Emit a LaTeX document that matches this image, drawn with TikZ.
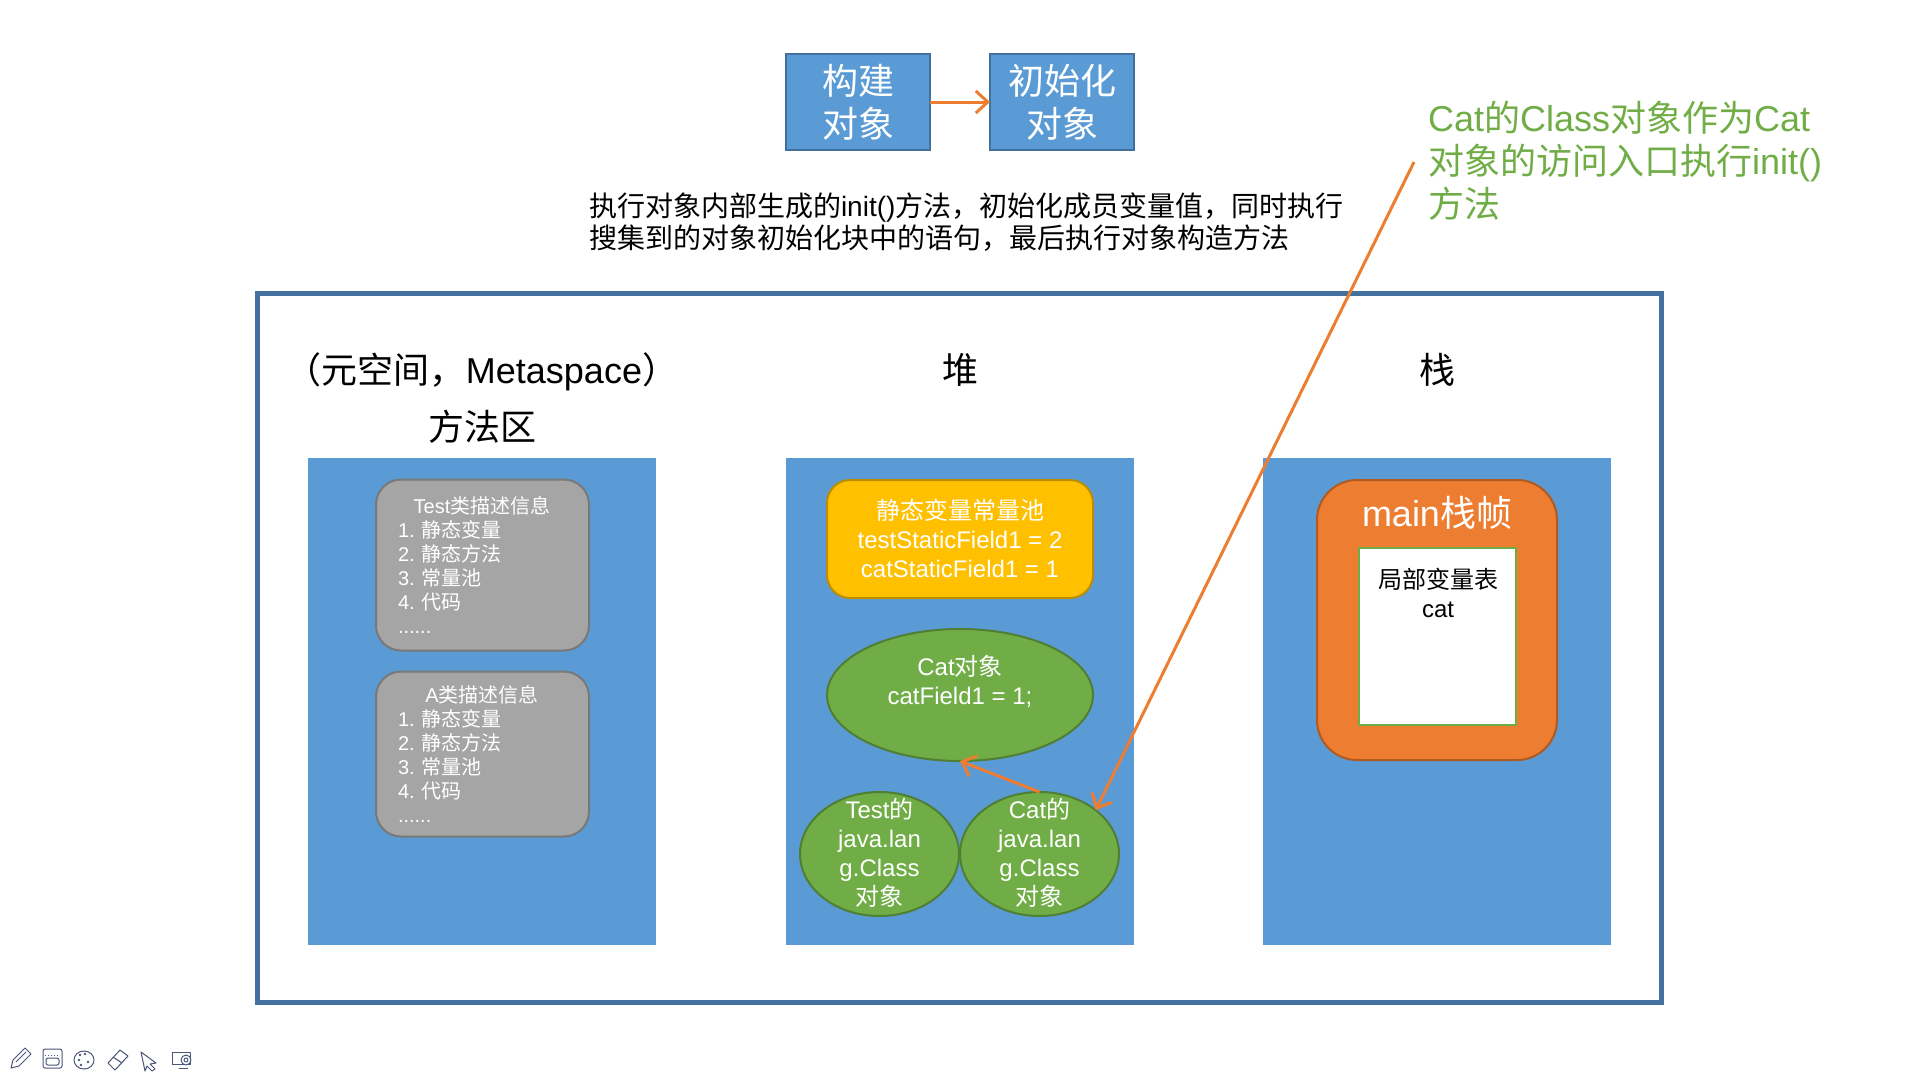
\documentclass[tikz,border=0pt]{standalone}
\usepackage{fontspec}
\setmainfont{Liberation Sans}
\newfontfamily\cjk{Noto Sans CJK SC}
\usetikzlibrary{arrows.meta, positioning, shapes.geometric}
\newcommand{\zh}[1]{{\cjk #1}}
\newcommand{\infolist}{1.\hspace{7.3pt}\zh{静态变量}\\2.\hspace{7.3pt}\zh{静态方法}\\3.\hspace{7.3pt}\zh{常量池}\\4.\hspace{7.3pt}\zh{代码}\\......}
\definecolor{panelblue}{HTML}{5B9BD5}
\definecolor{edgeblue}{HTML}{41719C}
\definecolor{lineorange}{HTML}{ED7D31}
\definecolor{edgeorange}{HTML}{AE5A21}
\definecolor{boxgrey}{HTML}{A5A5A5}
\definecolor{edgegrey}{HTML}{787878}
\definecolor{boxyellow}{HTML}{FFC000}
\definecolor{edgeyellow}{HTML}{BC8C00}
\definecolor{ballgreen}{HTML}{70AD47}
\definecolor{edgegreen}{HTML}{507E32}
\definecolor{iconblue}{HTML}{4A5578}
\begin{document}
\begin{tikzpicture}[
        x=1pt, y=-1pt,
        outer sep=0pt,
        block/.style={rectangle, draw=edgeblue, line width=2pt, fill=panelblue, text=white, align=center, minimum width=144pt, minimum height=96pt, inner sep=0pt, font=\fontsize{36}{43}\selectfont},
        area/.style={rectangle, fill=panelblue, minimum width=348pt, minimum height=487pt, anchor=north west},
        heading/.style={text=black, font=\fontsize{36}{36}\selectfont, inner sep=0pt},
        info/.style={rectangle, rounded corners=25pt, draw=edgegrey, line width=2pt, fill=boxgrey, minimum width=213pt},
        infotext/.style={text=white, align=left, inner sep=0pt, font=\fontsize{20}{24}\selectfont},
        whitetext/.style={text=white, align=center, inner sep=0pt, font=\fontsize{24}{29}\selectfont},
        ball/.style={ellipse, draw=edgegreen, line width=2pt, fill=ballgreen, inner sep=0pt},
        link/.style={draw=lineorange, line width=3pt, -{Straight Barb[length=12pt, width=22pt, line width=3pt]}},
        icon/.style={draw=iconblue, line width=1pt, line join=round}
    ]

    \useasboundingbox (0,0) rectangle (1920,1080);

    \node[block] (build) at (858,102) {\zh{构建}\\\zh{对象}};
    \node[block, right=60pt of build] (init) {\zh{初始化}\\\zh{对象}};
    \draw[link] (build) -- (init);

    \node[anchor=west, inner sep=0pt, align=left, font=\fontsize{28}{32}\selectfont] (desc) at (589,222) {\zh{执行对象内部生成的}init()\zh{方法，初始化成员变量值，同时执行}\\\zh{搜集到的对象初始化块中的语句，最后执行对象构造方法}};

    \node[anchor=west, inner sep=0pt, align=left, text=ballgreen, font=\fontsize{36}{43}\selectfont] (note) at (1428,161) {Cat\zh{的}Class\zh{对象作为}Cat\\\zh{对象的访问入口执行}init()\\\zh{方法}};
    \coordinate (noteend) at (1414,162);

    \node[rectangle, draw=edgeblue, line width=5pt, minimum width=1404pt, minimum height=709pt, anchor=north west] (frame) at (257,293) {};

    \node[area] (methodarea) at (308,458) {};
    \node[area, right=130pt of methodarea] (heaparea) {};
    \node[area, right=129pt of heaparea] (stackarea) {};

    \node[heading] (metatitle) at (482,372) {\zh{（元空间，}Metaspace\zh{）}};
    \node[heading] (methodtitle) at (482,427) {\zh{方法区}};
    \node[heading] (heaptitle) at (960,370) {\zh{堆}};
    \node[heading] (stacktitle) at (1437,370) {\zh{栈}};

    \node[info, minimum height=171pt] (testinfo) at (482.5,565) {};
    \node[infotext] (testname) at (482,506) {Test\zh{类描述信息}};
    \node[infotext, anchor=west] (testlist) at (398,577) {\infolist};

    \node[info, minimum height=165pt] (ainfo) at (482.5,754) {};
    \node[infotext] (aname) at (482,695) {A\zh{类描述信息}};
    \node[infotext, anchor=west] (alist) at (398,766) {\infolist};

    \node[rectangle, rounded corners=23pt, draw=edgeyellow, line width=2pt, fill=boxyellow, minimum width=266pt, minimum height=118pt] (pool) at (960,539) {};
    \node[whitetext] (pooltext) at (960,538) {\zh{静态变量常量池}\\testStaticField1 = 2\\catStaticField1 = 1};

    \node[ball, minimum width=266pt, minimum height=132pt] (catobj) at (960,695) {};
    \node[whitetext] (catobjtext) at (960,681) {Cat\zh{对象}\\catField1 = 1;};

    \node[ball, minimum width=159pt, minimum height=124pt] (testclass) at (879.5,854) {};
    \node[ball, minimum width=159pt, minimum height=124pt] (catclass) at (1039.5,854) {};
    \node[whitetext] (testclasstext) at (879.5,853) {Test\zh{的}\\java.lan\\g.Class\\\zh{对象}};
    \node[whitetext] (catclasstext) at (1039.5,853) {Cat\zh{的}\\java.lan\\g.Class\\\zh{对象}};

    \node[rectangle, rounded corners=40pt, draw=edgeorange, line width=2pt, fill=lineorange, minimum width=240pt, minimum height=280pt] (frameMain) at (1437,620) {};
    \node[text=white, inner sep=0pt, font=\fontsize{36}{36}\selectfont] (frameName) at (1437,513) {main\zh{栈帧}};
    \node[rectangle, draw=ballgreen, line width=2.5pt, fill=white, minimum width=157pt, minimum height=177pt] (locals) at (1437.5,636.5) {};
    \node[align=center, inner sep=0pt, font=\fontsize{24}{29}\selectfont] (localstext) at (1438,593) {\zh{局部变量表}\\cat};

    \draw[link] (catclass.north) -- (catobj.south);
    \draw[link] (noteend) -- (catclass.38);

    \draw[icon] (11,1068) -- (13,1060) -- (25,1048) -- (31,1054) -- (19,1066) -- cycle;
    \draw[icon] (16,1062) -- (26,1052);
    \draw[icon, rounded corners=2pt] (43,1049) rectangle (62,1068);
    \draw[icon, dotted] (45,1055) -- (60,1055);
    \draw[icon, rounded corners=2pt] (46,1058) rectangle (59,1065);
    \draw[icon] (84,1060) ellipse (10 and 9);
    \fill[iconblue] (80,1055) circle (1.3) (85,1054) circle (1.3) (79,1060) circle (1.3) (81,1065) circle (1.3) (88,1062) circle (1.3);
    \draw[icon] (120,1050) -- (128,1056) -- (115,1070) -- (108,1063) -- cycle;
    \draw[icon] (113,1057) -- (122,1063);
    \draw[icon] (141,1052) -- (156,1063) -- (150,1064) -- (155,1069) -- (152,1071) -- (147,1066) -- (145,1071) -- cycle;
    \draw[icon] (172,1052) rectangle (190,1064);
    \draw[icon] (179,1068) -- (188,1068);
    \draw[icon, fill=white] (186,1060) circle (5);
    \draw[icon] (186,1060) circle (2);

\end{tikzpicture}
\end{document}
